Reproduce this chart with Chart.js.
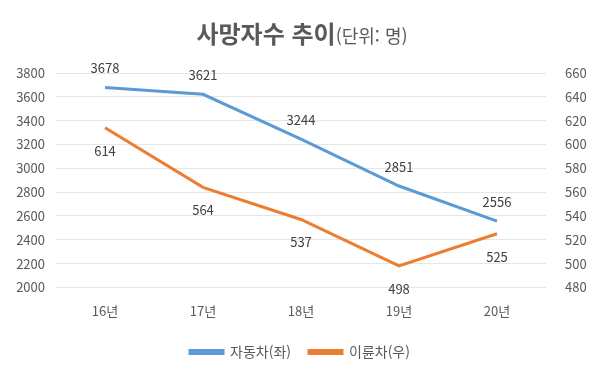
<!DOCTYPE html>
<html lang="ko">
<head>
<meta charset="utf-8">
<script src="https://cdn.jsdelivr.net/npm/chart.js@4"></script>
<style>
  html, body { margin: 0; padding: 0; background: #fff; }
  #wrap { position: relative; width: 600px; height: 381px; }
  #title { position: absolute; left: 0; right: 0; top: 15px; padding-left: 4px; text-align: center;
    font-family: 'Noto Sans CJK KR', 'Noto Sans', sans-serif; color: #595959; white-space: nowrap; }
  #title b { font-size: 24px; font-weight: 700; }
  #title span { font-size: 18px; }
</style>
</head>
<body>
<div id="wrap">
  <div id="title"><b>사망자수 추이</b><span>(단위: 명)</span></div>
  <canvas id="c" width="600" height="381"></canvas>
</div>
<script>
'use strict';

const years = ['16년', '17년', '18년', '19년', '20년'];
const carDeaths = [3678, 3621, 3244, 2851, 2556];
const bikeDeaths = [614, 564, 537, 498, 525];
const FONT = "'Noto Sans CJK KR', 'Noto Sans', sans-serif";

// point labels (no datalabels plugin available offline)
const pointLabels = {
  id: 'pointLabels',
  afterDatasetsDraw(chart) {
    const { ctx } = chart;
    ctx.save();
    ctx.font = '13px ' + FONT;
    ctx.fillStyle = '#404040';
    ctx.textAlign = 'center';
    ctx.textBaseline = 'middle';
    chart.data.datasets.forEach((ds, i) => {
      const off = i === 0 ? -19 : 23;
      chart.getDatasetMeta(i).data.forEach((p, j) => {
        ctx.fillText(String(ds.data[j]), p.x, p.y + off);
      });
    });
    ctx.restore();
  },
};

const plain = (v) => String(v);

new Chart(document.getElementById('c'), {
  type: 'line',
  data: {
    labels: years,
    datasets: [
      { label: '자동차(좌)', data: carDeaths, yAxisID: 'y', borderColor: '#5b9bd5', backgroundColor: '#5b9bd5',
        borderWidth: 3, pointRadius: 0, tension: 0 },
      { label: '이륜차(우)', data: bikeDeaths, yAxisID: 'y1', borderColor: '#ed7d31', backgroundColor: '#ed7d31',
        borderWidth: 3, pointRadius: 0, tension: 0 },
    ],
  },
  options: {
    responsive: false, animation: false,
    layout: { padding: { top: 73, left: 0, right: 0, bottom: 12 } },
    plugins: {
      title: { display: false },
      tooltip: { enabled: false },
      legend: {
        position: 'bottom',
        labels: { color: '#595959', font: { family: FONT, size: 14 }, boxWidth: 33, boxHeight: 3, padding: 18 },
      },
    },
    scales: {
      x: {
        offset: true,
        grid: { display: false },
        border: { display: false },
        ticks: { color: '#595959', font: { family: FONT, size: 13 }, padding: 8 },
      },
      y: {
        position: 'left', min: 2000, max: 3800,
        grid: { color: '#e6e6e6', drawTicks: false },
        border: { display: false },
        ticks: { stepSize: 200, color: '#595959', font: { family: FONT, size: 13 }, padding: 11, callback: plain },
        afterFit: (a) => { a.width = 56; },
      },
      y1: {
        position: 'right', min: 480, max: 660,
        grid: { display: false, drawTicks: false },
        border: { display: false },
        ticks: { stepSize: 20, color: '#595959', font: { family: FONT, size: 13 }, padding: 19, callback: plain },
        afterFit: (a) => { a.width = 54; },
      },
    },
  },
  plugins: [pointLabels],
});
</script>
</body>
</html>
